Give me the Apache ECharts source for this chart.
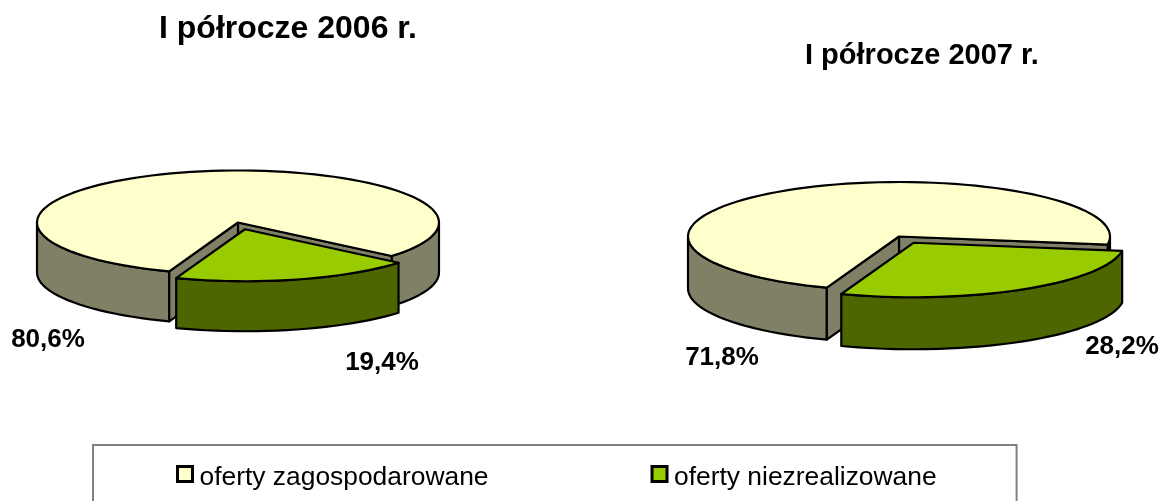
<!DOCTYPE html>
<html><head><meta charset="utf-8">
<style>html,body{margin:0;padding:0;background:#fff}#c{width:1162px;height:501px}</style>
<script src="https://cdn.jsdelivr.net/npm/echarts@6/dist/echarts.min.js"></script>
</head><body><div id="c"></div>
<script>
const periods = ['I półrocze 2006 r.', 'I półrocze 2007 r.'];
const categories = ['oferty zagospodarowane', 'oferty niezrealizowane'];
const zagospodarowane = [80.6, 71.8];
const niezrealizowane = [19.4, 28.2];

const FONT = '"Liberation Sans", Arial, sans-serif';
const pieLayouts = [
  {cx: 238, cy: 222.5, rx: 201, ry: 52, depth: 50},
  {cx: 899, cy: 236.5, rx: 211, ry: 54.5, depth: 52}
];
const labelPos = [
  [[48, 340], [382, 363]],
  [[722, 358], [1122, 347]]
];
const CUT_DEG = -20;       // angle (from south, toward east) of the boundary shared by both slices
const EXPLODE = 0.134;
const STEPS = 3;           // degrees per polyline segment
const INK = '#000';
const topColors = ['#FFFFCC', '#99CC00'];
const wallColors = ['#808066', '#4D6600'];

function pt(p, deg, dx, dy, dz) {
  const r = deg * Math.PI / 180;
  return [p.cx + dx + p.rx * Math.sin(r), p.cy + dy + p.ry * Math.cos(r) + dz];
}
function arc(p, a, b, dx, dy, dz) {
  const out = [], n = Math.max(2, Math.ceil(Math.abs(b - a) / STEPS));
  for (let i = 0; i <= n; i++) out.push(pt(p, a + (b - a) * i / n, dx, dy, dz));
  return out;
}
function frontRanges(a, b) {
  const res = [];
  for (let k = -2; k <= 2; k++) {
    const lo = Math.max(a, -90 + 360 * k), hi = Math.min(b, 90 + 360 * k);
    if (hi > lo) res.push([lo, hi]);
  }
  return res;
}
function poly(points, fill) {
  return {type: 'polygon', shape: {points},
    style: {fill, stroke: INK, lineWidth: 2.2, lineJoin: 'round'}};
}
function sliceRenderer(sliceIdx) {
  return function (params, api) {
    const pieIdx = api.value(0), v = api.value(1), p = pieLayouts[pieIdx];
    const a = sliceIdx === 0 ? CUT_DEG - v * 3.6 : CUT_DEG;
    const b = sliceIdx === 0 ? CUT_DEG : CUT_DEG + v * 3.6;
    let dx = 0, dy = 0;
    if (sliceIdx === 1) {
      const mid = (a + b) / 2 * Math.PI / 180;
      dx = EXPLODE * p.rx * Math.sin(mid);
      dy = EXPLODE * p.ry * Math.cos(mid);
    }
    const apex = [p.cx + dx, p.cy + dy];
    const apexLow = [apex[0], apex[1] + p.depth];
    const children = [];
    frontRanges(a, b).forEach(function (r) {
      const t = arc(p, r[0], r[1], dx, dy, 0);
      const bt = arc(p, r[0], r[1], dx, dy, p.depth).reverse();
      children.push(poly(t.concat(bt), wallColors[sliceIdx]));
    });
    if (sliceIdx === 0) {
      [a, b].forEach(function (d) {
        children.push(poly([apex, pt(p, d, dx, dy, 0), pt(p, d, dx, dy, p.depth), apexLow], wallColors[0]));
      });
    }
    children.push(poly([apex].concat(arc(p, a, b, dx, dy, 0)), topColors[sliceIdx]));
    const lp = labelPos[pieIdx][sliceIdx];
    children.push({type: 'text', x: lp[0], y: lp[1], z2: 10, style: {
      text: v.toFixed(1).replace('.', ',') + '%',
      font: 'bold 26px ' + FONT, fill: '#000', align: 'center', verticalAlign: 'middle'
    }});
    return {type: 'group', children};
  };
}
function seriesFor(sliceIdx, values) {
  return {
    type: 'custom', name: categories[sliceIdx], coordinateSystem: 'none',
    silent: true, animation: false, clip: false,
    itemStyle: {color: topColors[sliceIdx]},
    data: values.map(function (v, i) { return [i, v]; }),
    renderItem: sliceRenderer(sliceIdx)
  };
}
const chart = echarts.init(document.getElementById('c'), null, {renderer: 'canvas'});
chart.setOption({
  backgroundColor: '#fff',
  animation: false,
  title: [
    {text: periods[0], left: 159, top: 13, padding: 0,
     textStyle: {fontFamily: FONT, fontWeight: 'bold', fontSize: 32, color: '#000'}},
    {text: periods[1], left: 805, top: 41, padding: 0,
     textStyle: {fontFamily: FONT, fontWeight: 'bold', fontSize: 29, color: '#000'}}
  ],
  legend: {
    data: categories, left: 93, top: 445, orient: 'horizontal',
    padding: [20, 80, 60, 83], itemGap: 162, itemWidth: 15, itemHeight: 15,
    icon: 'rect', borderColor: '#808080', borderWidth: 2, backgroundColor: '#fff',
    selectedMode: false,
    itemStyle: {borderColor: INK, borderWidth: 3},
    formatter: '{t|{name}}',
    textStyle: {
      fontFamily: FONT, fontSize: 26.4, color: '#000',
      rich: {t: {fontFamily: FONT, fontSize: 26.4, color: '#000', padding: [8, 0, 0, 2]}}
    }
  },
  series: [seriesFor(0, zagospodarowane), seriesFor(1, niezrealizowane)]
});
</script></body></html>
